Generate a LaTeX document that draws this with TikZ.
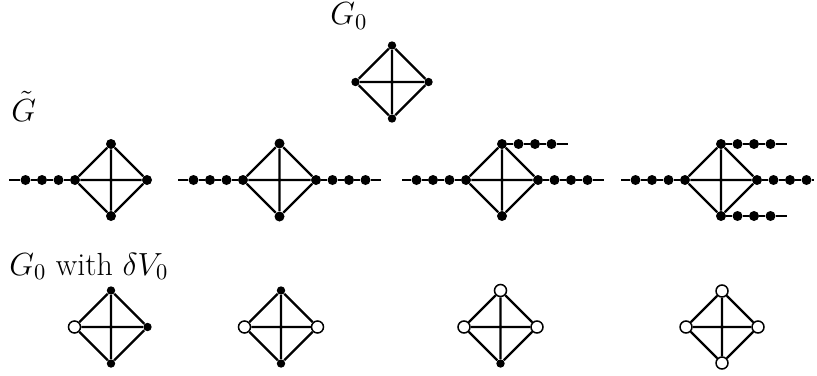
\RequirePackage{fix-cm}
\documentclass[tikz,border=0pt]{standalone}
\tikzset{
  edge/.style={line width=1.1pt},
  bdot/.style={circle,fill=black,inner sep=0pt,minimum size=5pt},
  sdot/.style={circle,fill=black,inner sep=0pt,minimum size=4.2pt},
  odot/.style={circle,draw=black,fill=white,line width=0.75pt,inner sep=0pt,minimum size=6pt},
  lab/.style={anchor=base west,inner sep=0pt}
}
% K4 graph: #1 prefix, #2 cx, #3 cy, #4 left, #5 top, #6 right, #7 bottom styles, #8 half size
\newcommand\kfourgraph[8]{%
  \node[#4] (#1L) at ({#2-#8},{#3}) {};
  \node[#5] (#1T) at ({#2},{#3-#8}) {};
  \node[#6] (#1R) at ({#2+#8},{#3}) {};
  \node[#7] (#1B) at ({#2},{#3+#8}) {};
  \draw[edge] (#1L) -- (#1T) -- (#1R) -- (#1B) -- (#1L) (#1L) -- (#1R) (#1T) -- (#1B);
}
% chain: #1 prefix, #2 vertex name, #3 x, #4 y, #5 direction, #6 end length
\newcommand\mychain[6]{%
  \node[bdot] (#1a) at ({#3+#5*16.5},{#4}) {};
  \node[bdot] (#1b) at ({#3+#5*33},{#4}) {};
  \node[bdot] (#1c) at ({#3+#5*49.5},{#4}) {};
  \coordinate (#1e) at ({#3+#5*#6},{#4});
  \draw[edge] (#2) -- (#1a) -- (#1b) -- (#1c) -- (#1e);
}
\begin{document}
\begin{tikzpicture}[x=0.5pt,y=-0.5pt,font=\fontsize{16}{19}\selectfont]
\useasboundingbox (0,0) rectangle (817,375);
% labels
\node[lab] (lg0) at (330,25) {$G_0$};
\node[lab] (lgt) at (11,121) {$\tilde G$};
\node[lab] (lgd) at (9,275) {$G_0$ with $\delta V_0$};
% top G0
\kfourgraph{a}{392}{82}{sdot}{sdot}{sdot}{sdot}{36.5}
% row 2
\kfourgraph{p}{111}{180}{bdot}{bdot}{bdot}{bdot}{36}
\mychain{pl}{pL}{75}{180}{-1}{66}
\kfourgraph{q}{279.5}{180}{bdot}{bdot}{bdot}{bdot}{36.5}
\mychain{ql}{qL}{243}{180}{-1}{65}
\mychain{qr}{qR}{316}{180}{1}{65}
\kfourgraph{r}{502}{180}{bdot}{bdot}{bdot}{bdot}{36}
\mychain{rl}{rL}{466}{180}{-1}{64}
\mychain{rr}{rR}{538}{180}{1}{66}
\mychain{rt}{rT}{502}{144}{1}{66}
\kfourgraph{s}{721}{180}{bdot}{bdot}{bdot}{bdot}{36}
\mychain{sl}{sL}{685}{180}{-1}{64}
\mychain{sr}{sR}{757}{180}{1}{57}
\mychain{st}{sT}{721}{144}{1}{66}
\mychain{sb}{sB}{721}{216}{1}{66}
% row 3
\kfourgraph{u}{111}{327}{odot}{sdot}{sdot}{sdot}{36.5}
\kfourgraph{v}{281}{327}{odot}{sdot}{odot}{sdot}{36.5}
\kfourgraph{w}{500.5}{327}{odot}{odot}{odot}{sdot}{36.5}
\kfourgraph{z}{722}{327}{odot}{odot}{odot}{odot}{36}
\end{tikzpicture}
\end{document}
